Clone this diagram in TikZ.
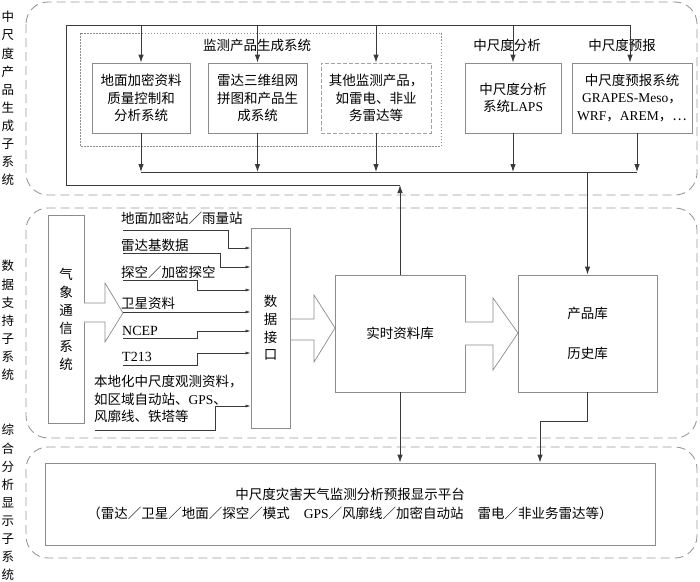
\documentclass[tikz,border=0pt]{standalone}
\usepackage{fontspec}
\setmainfont{Liberation Serif}
\newfontfamily\cjk{Noto Sans CJK SC}
\usetikzlibrary{arrows.meta}
\definecolor{boxgray}{HTML}{8C8C8C}
\definecolor{linegray}{HTML}{3A3A3A}
\definecolor{dashgray}{HTML}{9A9A9A}
\tikzset{
  box/.style={draw=boxgray, line width=0.8pt, fill=white, align=center, inner sep=0pt,
    font=\cjk\fontsize{13.5}{17.3}\selectfont},
  vbox/.style={box, font=\cjk\fontsize{13.5}{18}\selectfont},
  lbl/.style={align=left, inner sep=0pt, font=\cjk\fontsize{13.5}{17.3}\selectfont},
  side/.style={align=center, inner sep=0pt, font=\cjk\fontsize{12.5}{18.1}\selectfont},
  grp/.style={draw=dashgray, line width=0.9pt, dash pattern=on 9pt off 5pt, rounded corners=22pt},
  conn/.style={draw=linegray, line width=0.9pt},
  arr/.style={conn, -{Latex[length=8pt,width=5.5pt]}},
  sarr/.style={draw=linegray, line width=0.7pt, -{Latex[length=5pt,width=3pt]}},
  bigarr/.style={draw=boxgray, line width=0.7pt, fill=white, line join=miter}
}
\begin{document}
\begin{tikzpicture}[x=1pt,y=-1pt]
\useasboundingbox (0,0) rectangle (700,581);

% group frames
\draw[grp] (26,2) rectangle (697,195);
\draw[grp] (26,208) rectangle (697,438);
\draw[grp] (26,447) rectangle (697,558);

% side labels
\node[side] (s1) at (8,98.5) {中\\尺\\度\\产\\品\\生\\成\\子\\系\\统};
\node[side] (s2) at (8,320.5) {数\\据\\支\\持\\子\\系\\统};
\node[side] (s3) at (8,502.5) {综\\合\\分\\析\\显\\示\\子\\系\\统};

% top subsystem
\draw[draw=boxgray, line width=0.7pt, dash pattern=on 1.5pt off 1.5pt] (80,33) rectangle (441,146);
\node[lbl] (mt) at (257,45) {监测产品生成系统};
\node[lbl] (ma) at (507,45) {中尺度分析};
\node[lbl] (mf) at (622,45) {中尺度预报};

\node[box, minimum width=98pt, minimum height=70pt] (b1) at (141,98) {地面加密资料\\质量控制和\\分析系统};
\node[box, minimum width=99pt, minimum height=70pt] (b2) at (257.5,98) {雷达三维组网\\拼图和产品生\\成系统};
\node[box, draw=boxgray!80, dash pattern=on 4pt off 2pt, minimum width=110pt, minimum height=70pt] (b3) at (376,98) {其他监测产品，\\如雷电、非业\\务雷达等};
\node[box, minimum width=96pt, minimum height=70pt] (b4) at (513,98) {中尺度分析\\系统\textrm{LAPS}};
\node[box, minimum width=120pt, minimum height=70pt] (b5) at (632,98) {中尺度预报系统\\\textrm{GRAPES-Meso}，\\\textrm{WRF}，\textrm{AREM}，…};

\coordinate (t0) at (66,25);
\coordinate (t5) at (630,25);
\coordinate (f1) at (66,185);
\coordinate (f2) at (400,185);
\coordinate (c0) at (141,172);
\coordinate (c5) at (637,172);

\draw[conn] (t5) -- (t0) -- (f1) -- (f2);
\draw[arr] (b1.north |- t0) -- (b1.north);
\draw[arr] (b2.north |- t0) -- (b2.north);
\draw[arr] (b3.north |- t0) -- (b3.north);
\draw[arr] (b4.north |- t0) -- (b4.north);
\draw[arr] (t5) -- (t5 |- b5.north);

\draw[conn] (c0) -- (c5);
\draw[arr] (b1.south) -- (b1.south |- c0);
\draw[arr] (b2.south) -- (b2.south |- c0);
\draw[arr] (b3.south) -- (b3.south |- c0);
\draw[arr] (b4.south) -- (b4.south |- c0);
\draw[arr] (c5 |- b5.south) -- (c5);

% middle subsystem
\node[vbox, minimum width=36pt, minimum height=208pt] (qx) at (66,319) {气\\象\\通\\信\\系\\统};
\node[vbox, minimum width=39pt, minimum height=200pt, font=\cjk\fontsize{13.5}{17.7}\selectfont] (sj) at (270.5,328) {数\\据\\接\\口};
\node[box, minimum width=130pt, minimum height=117pt] (rt) at (400,333.5) {实时资料库};
\node[box, minimum width=139pt, minimum height=117pt] (pk) at (587.5,333.5) {产品库\\[22pt]历史库};

\draw[arr] (rt.north) -- (f2);
\draw[arr] (pk.north |- c0) -- (pk.north);

% big arrows
\draw[bigarr] (84,303) -- (105,303) -- (105,283) -- (123,313) -- (105,342) -- (105,322) -- (84,322);
\draw[bigarr] (291,319) -- (314,319) -- (314,295) -- (335,328) -- (314,362) -- (314,340) -- (291,340);
\draw[bigarr] (465,322) -- (493,322) -- (493,298) -- (518,333) -- (493,370) -- (493,345) -- (465,345);

% inputs
\node[lbl, anchor=west] (i1) at (121,218) {地面加密站／雨量站};
\node[lbl, anchor=west] (i2) at (121,245) {雷达基数据};
\node[lbl, anchor=west] (i3) at (121,272) {探空／加密探空};
\node[lbl, anchor=west] (i4) at (121,303) {卫星资料};
\node[lbl, anchor=west, font=\fontsize{14}{17}\selectfont] (i5) at (122,331) {NCEP};
\node[lbl, anchor=west, font=\fontsize{14}{17}\selectfont] (i6) at (122,357) {T213};
\node[lbl, anchor=west] (i7) at (94,399) {本地化中尺度观测资料，\\如区域自动站、\textrm{GPS}、\\风廓线、铁塔等};

\coordinate (p1) at (123,230);
\coordinate (p2) at (123,253);
\coordinate (p3) at (123,280);
\coordinate (p4) at (123,312);
\coordinate (p5) at (123,338);
\coordinate (p6) at (123,365);
\coordinate (p7) at (95,430);

\draw[sarr] (p1) -| (228,248) -- (sj.west |- 0,248);
\draw[sarr] (p2) -| (220,267) -- (sj.west |- 0,267);
\draw[sarr] (p3) -| (197,290) -- (sj.west |- 0,290);
\draw[sarr] (p4) -- (sj.west |- p4);
\draw[sarr] (p5) -| (197,331) -- (sj.west |- 0,331);
\draw[sarr] (p6) -| (197,353) -- (sj.west |- 0,353);
\draw[sarr] (p7) -| (215,406) -- (sj.west |- 0,406);

% bottom subsystem
\node[box, minimum width=610pt, minimum height=82pt, font=\cjk\fontsize{13.5}{19}\selectfont] (disp) at (350,504)
  {中尺度灾害天气监测分析预报显示平台\\（雷达／卫星／地面／探空／模式\hspace{14pt}\textrm{GPS}／风廓线／加密自动站\hspace{14pt}雷电／非业务雷达等）};

\coordinate (k1) at (540,421);
\draw[arr] (rt.south) -- (rt.south |- disp.north);
\draw[arr] (pk.south) |- (k1) -- (k1 |- disp.north);
\end{tikzpicture}
\end{document}
